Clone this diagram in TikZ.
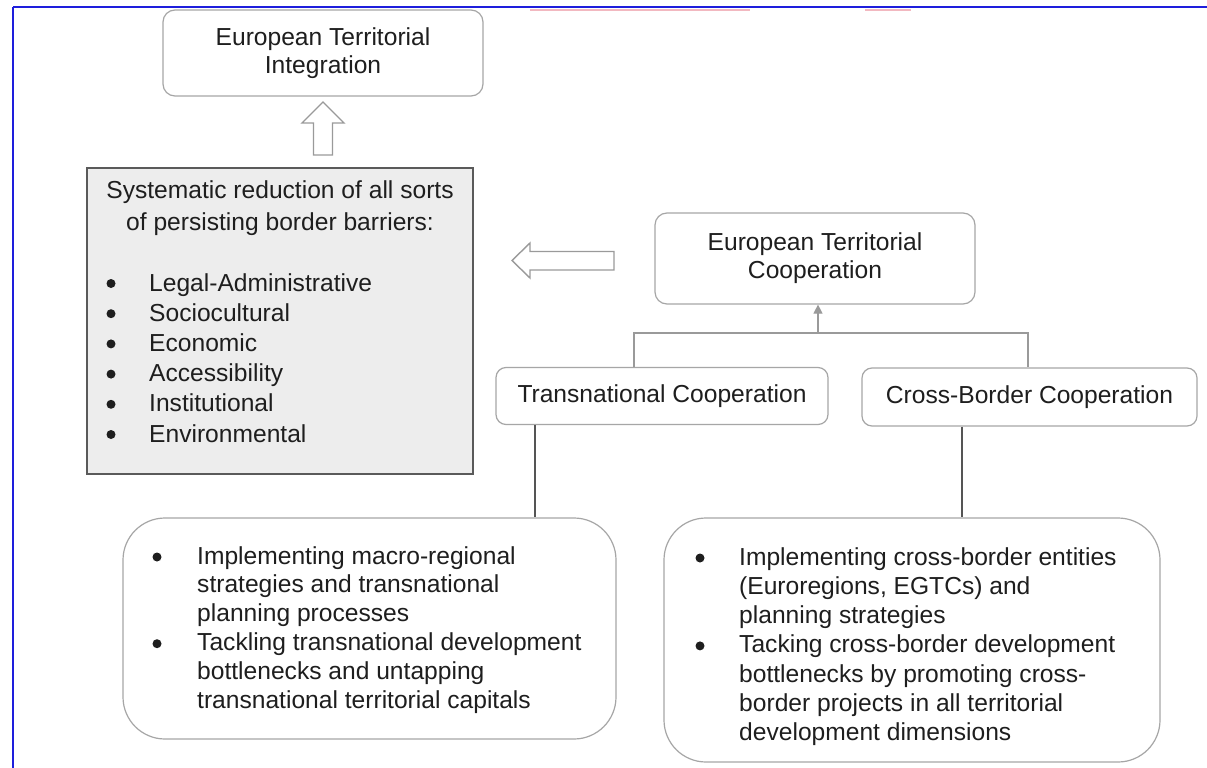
\documentclass[tikz,border=0pt]{standalone}
\usepackage{fontspec}
\setmainfont{Liberation Sans}
\usetikzlibrary{arrows.meta}
\definecolor{txt}{HTML}{1E1E1E}
\definecolor{bord}{HTML}{A6A6A6}
\definecolor{grayfill}{HTML}{EDEDED}
\definecolor{graybord}{HTML}{5A5A5A}
\definecolor{arrowgray}{HTML}{9A9A9A}
\definecolor{linegray}{HTML}{555555}
\definecolor{framblue}{HTML}{1E1EDC}
\definecolor{pinkish}{HTML}{F2B8C0}
\begin{document}
\begin{tikzpicture}[x=1pt,y=-1pt,
  every node/.style={font=\fontsize{24.6}{28}\selectfont, text=txt},
  rbox/.style={draw=bord, line width=1.2pt, rounded corners=12pt, inner sep=0pt, align=center, fill=white},
  bigbox/.style={draw=bord, line width=1.2pt, rounded corners=42pt, inner sep=0pt, fill=white},
  barrow/.style={draw=arrowgray, line width=1.4pt, fill=white, line join=miter},
  conn/.style={draw=linegray, line width=1.2pt},
  lightconn/.style={draw=arrowgray, line width=1.2pt},
  line/.style={anchor=base west, inner sep=0pt},
  bul/.style={circle, fill=txt, inner sep=0pt, minimum size=9pt}]
\useasboundingbox (0,0) rectangle (1207,768);
\fill[white] (0,0) rectangle (1207,768);
% frame remnants
\draw[framblue, line width=2.4pt] (13,7) -- (1207,7);
\draw[framblue, line width=1.6pt] (13,7) -- (13,768);
\draw[pinkish, line width=2pt] (530,10) -- (750,10);
\draw[pinkish, line width=2pt] (865,10) -- (911,10);

% top box
\node[rbox, minimum width=320pt, minimum height=86pt] (ti) at (323,53) {European Territorial\\Integration};

% up block arrow
\draw[barrow] (313.5,155) -- (313.5,123) -- (302,123) -- (323,102) -- (344,123) -- (332.5,123) -- (332.5,155) -- cycle;

% gray box
\node[draw=graybord, fill=grayfill, line width=1.6pt, minimum width=386pt, minimum height=306pt, inner sep=0pt] (sr) at (280,321) {};
\node[anchor=base, inner sep=0pt] (srt1) at (280,198) {Systematic reduction of all sorts};
\node[anchor=base, inner sep=0pt] (srt2) at (280,230) {of persisting border barriers:};
\foreach \t [count=\i] in {Legal-Administrative,Sociocultural,Economic,Accessibility,Institutional,Environmental}{
  \node[line] (srl\i) at (149,{291+30.2*(\i-1)}) {\t};
  \node[bul] (srb\i) at (111,{283.5+30.2*(\i-1)}) {};
}

% left block arrow
\draw[barrow] (614,251.5) -- (530,251.5) -- (530,243) -- (512,260.5) -- (530,278) -- (530,270) -- (614,270) -- cycle;

% ETC box
\node[rbox, minimum width=320pt, minimum height=91pt] (etc) at (815,258.5) {European Territorial\\Cooperation};

% second level
\node[rbox, rounded corners=10pt, minimum width=332pt, minimum height=57pt] (tc) at (662,396) {Transnational Cooperation};
\node[rbox, rounded corners=10pt, minimum width=335pt, minimum height=58pt] (cb) at (1029.5,397) {Cross-Border Cooperation};

% connectors
\coordinate (j) at (818,333);
\coordinate (hl) at (634,333);
\coordinate (hr) at (1028,333);
\draw[lightconn] (tc.north -| hl) -- (hl) -- (hr) -- (cb.north -| hr);
\draw[lightconn, -{Triangle[length=9pt,width=9pt]}, arrowgray] (j) -- (etc.south -| j);

% bottom boxes
\node[bigbox, minimum width=493pt, minimum height=221pt] (lb) at (369.5,628.5) {};
\node[bigbox, minimum width=496pt, minimum height=244pt] (rb) at (912,640) {};

\coordinate (lx) at (535,0);
\coordinate (rx) at (962,0);
\draw[conn] (tc.south -| lx) -- (lb.north -| lx);
\draw[conn] (cb.south -| rx) -- (rb.north -| rx);

% left box text
\foreach \t [count=\i] in {Implementing macro-regional,strategies and transnational,planning processes,Tackling transnational development,bottlenecks and untapping,transnational territorial capitals}{
  \node[line] (lbl\i) at (197,{564+28.9*(\i-1)}) {\t};
}
\node[bul] (lbb1) at (157,557) {};
\node[bul] (lbb2) at (157,643.7) {};

% right box text
\foreach \t [count=\i] in {Implementing cross-border entities,{(Euroregions, EGTCs) and},planning strategies,Tacking cross-border development,bottlenecks by promoting cross-,border projects in all territorial,development dimensions}{
  \node[line] (rbl\i) at (739,{565+29.3*(\i-1)}) {\t};
}
\node[bul] (rbb1) at (700,558) {};
\node[bul] (rbb2) at (700,645.9) {};
\end{tikzpicture}
\end{document}
